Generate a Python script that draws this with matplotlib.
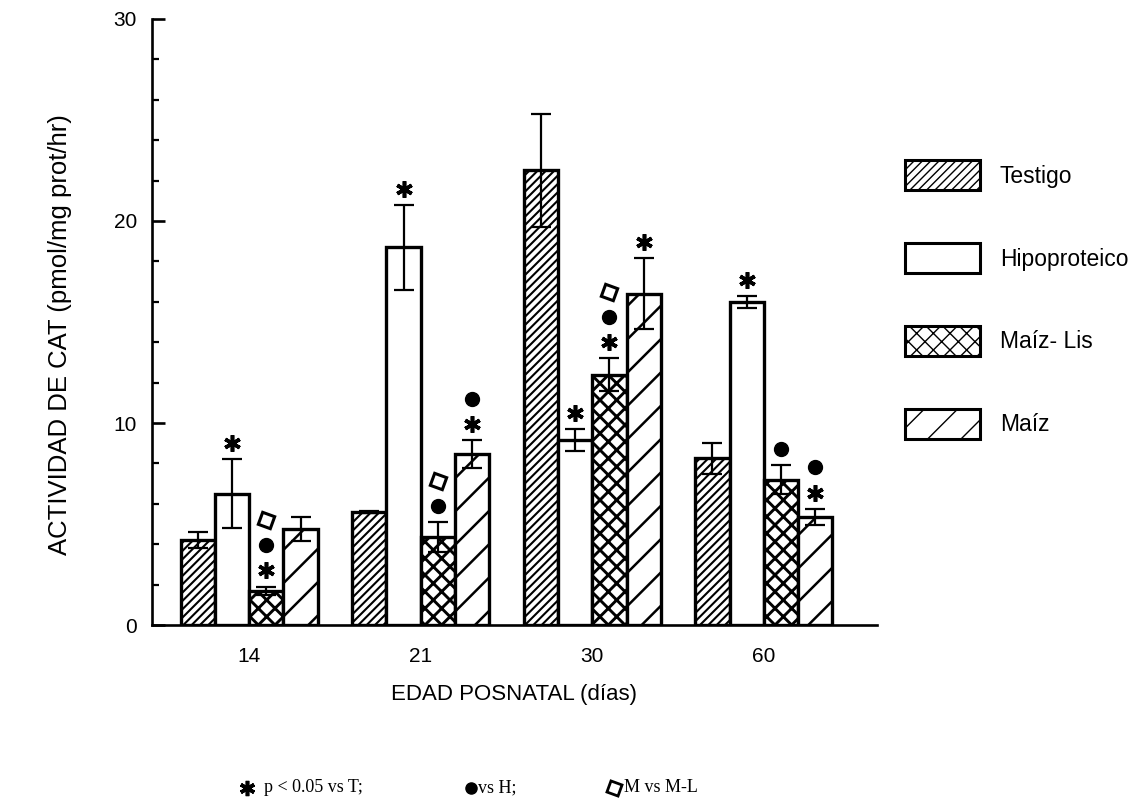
import numpy as np
import matplotlib.pyplot as plt

plt.rcParams['font.family'] = ['Liberation Sans', 'DejaVu Sans']

# Datos: actividad de CAT por edad y dieta (media, error estandar)
edades = ['14', '21', '30', '60']
grupos = ['Testigo', 'Hipoproteico', 'Maíz- Lis', 'Maíz']
testigo = [4.2, 5.6, 22.5, 8.25]
testigo_err = [0.4, 0.05, 2.8, 0.77]
hipo = [6.5, 18.7, 9.15, 16.0]
hipo_err = [1.7, 2.1, 0.55, 0.3]
maiz_lis = [1.7, 4.35, 12.4, 7.2]
maiz_lis_err = [0.2, 0.75, 0.8, 0.7]
maiz = [4.75, 8.45, 16.4, 5.35]
maiz_err = [0.6, 0.7, 1.75, 0.4]
# marcas de significancia: * vs T, o vs H, d (rombo) M vs M-L
sig_testigo = ['', '', '', '']
sig_hipo = ['*', '*', '*', '*']
sig_maiz_lis = ['*od', 'od', '*od', 'o']
sig_maiz = ['', '*o', '*', '*o']

medias = [testigo, hipo, maiz_lis, maiz]
errores = [testigo_err, hipo_err, maiz_lis_err, maiz_err]
marcas = [sig_testigo, sig_hipo, sig_maiz_lis, sig_maiz]
tramas = ['////', '', 'xx', '/']
grosor_trama = [1.5, 1.0, 2.1, 1.8]

estilos = {
    '*': dict(marker=(6, 2, 0), ms=12, mew=2.6, color='black'),
    'o': dict(marker='o', ms=10, color='black'),
    'd': dict(marker=(4, 0, 25), ms=13, mfc='white', mec='black', mew=2.2),
}

fig = plt.figure(figsize=(11.45, 8.07), dpi=100)
ax = fig.add_axes([0.1328, 0.2255, 0.6332, 0.751])

x = np.arange(len(edades))
ancho = 0.2
desp = [-0.3, -0.1, 0.1, 0.3]

barras_leyenda = []
for i in range(4):
    b = ax.bar(x + desp[i], medias[i], ancho, yerr=errores[i],
               color='white', edgecolor='black', linewidth=2.4,
               hatch=tramas[i], label=grupos[i],
               error_kw=dict(ecolor='black', elinewidth=1.6, capsize=7, capthick=1.6))
    for p in b.patches:
        p.set_hatch_linewidth(grosor_trama[i])
    barras_leyenda.append(b)
    for j in range(4):
        y = medias[i][j] + errores[i][j] + 0.8
        for m in marcas[i][j]:
            ax.plot(x[j] + desp[i], y, linestyle='none', clip_on=False, **estilos[m])
            y += 1.25

ax.set_xlim(-0.566, 3.66)
ax.set_ylim(0, 30)
ax.set_yticks([0, 10, 20, 30])
ax.set_yticks(np.arange(2, 30, 2), minor=True)
ax.set_xticks(x)
ax.set_xticklabels(edades)
ax.spines['top'].set_visible(False)
ax.spines['right'].set_visible(False)
ax.spines['left'].set_linewidth(1.9)
ax.spines['bottom'].set_linewidth(1.9)
ax.tick_params(axis='y', which='major', direction='in', length=9, width=1.9,
               labelsize=15, pad=11)
ax.tick_params(axis='y', which='minor', direction='in', length=5, width=1.6)
ax.tick_params(axis='x', length=0, labelsize=15, pad=16)

fig.text(0.052, 0.585, 'ACTIVIDAD DE CAT (pmol/mg prot/hr)', rotation=90,
         ha='center', va='center', fontsize=18.5)
fig.text(0.449, 0.140, 'EDAD POSNATAL (días)', ha='center', va='center', fontsize=16)

leg = ax.legend(handles=barras_leyenda, loc='upper left',
                bbox_to_anchor=(0.790, 0.8017), bbox_transform=fig.transFigure,
                frameon=False, fontsize=16.5, borderpad=0, borderaxespad=0,
                handlelength=3.3, handleheight=1.65, handletextpad=0.85,
                labelspacing=2.3)
for h in leg.legend_handles:
    h.set_linewidth(2.2)

# nota al pie con la clave de las marcas
pie_y = (807 - 788) / 807
serif = ['Liberation Serif', 'DejaVu Serif']
ax.plot([247 / 1145], [pie_y], transform=fig.transFigure, clip_on=False,
        linestyle='none', **dict(estilos['*'], ms=11))
fig.text(264 / 1145, pie_y, 'p < 0.05 vs T;', family=serif, fontsize=13, va='center')
ax.plot([471 / 1145], [pie_y], transform=fig.transFigure, clip_on=False,
        linestyle='none', **dict(estilos['o'], ms=8))
fig.text(478 / 1145, pie_y, 'vs H;', family=serif, fontsize=13, va='center')
ax.plot([614 / 1145], [pie_y], transform=fig.transFigure, clip_on=False,
        linestyle='none', **dict(estilos['d'], ms=12, mew=2))
fig.text(624 / 1145, pie_y, 'M vs M-L', family=serif, fontsize=13, va='center')

fig.savefig('out.png', dpi=100)
